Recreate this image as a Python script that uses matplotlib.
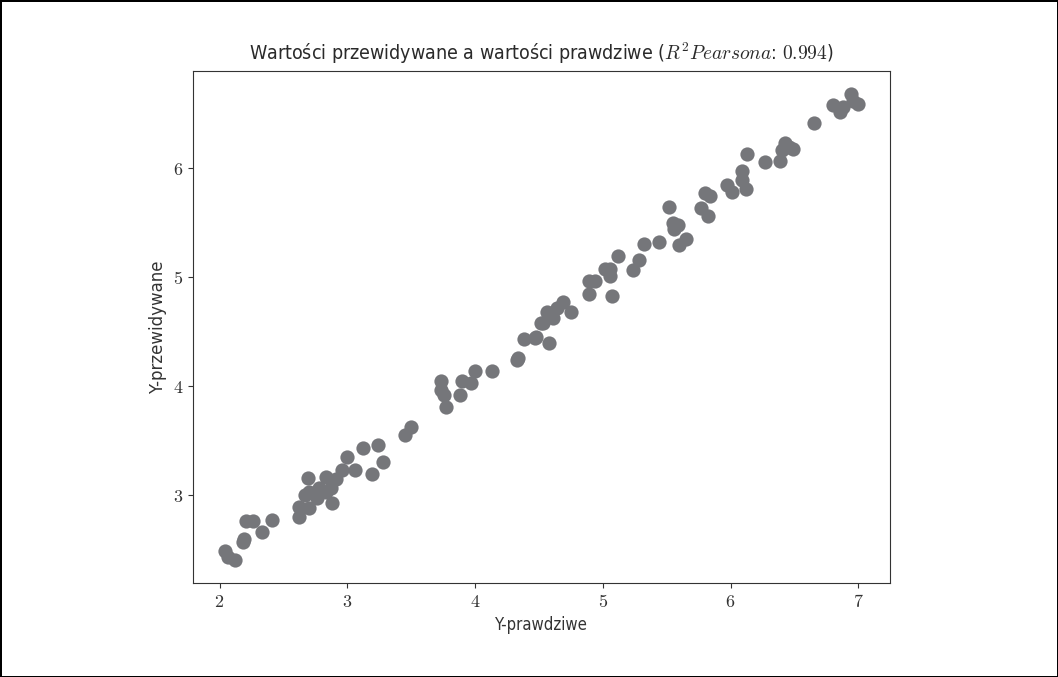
import matplotlib
matplotlib.use('Agg')
import matplotlib.pyplot as plt
from matplotlib.ticker import FuncFormatter

plt.rcParams['mathtext.fontset'] = 'cm'
plt.rcParams['font.family'] = ['DejaVu Sans']

y_true = [2.04, 2.07, 2.12, 2.18, 2.19, 2.21, 2.26, 2.33, 2.41, 2.62,
          2.62, 2.69, 2.70, 2.67, 2.70, 2.76, 2.78, 2.83, 2.83, 2.87,
          2.88, 2.91, 2.96, 3.00, 3.06, 3.12, 3.19, 3.24, 3.28, 3.45,
          3.50, 3.73, 3.73, 3.76, 3.77, 3.88, 3.90, 3.97, 4.00, 4.13,
          4.33, 4.34, 4.38, 4.47, 4.53, 4.58, 4.56, 4.61, 4.64, 4.69,
          4.75, 4.89, 4.89, 4.94, 5.02, 5.06, 5.06, 5.07, 5.12, 5.24,
          5.28, 5.32, 5.44, 5.52, 5.55, 5.56, 5.59, 5.60, 5.65, 5.77,
          5.80, 5.82, 5.84, 5.97, 6.01, 6.09, 6.09, 6.12, 6.13, 6.27,
          6.39, 6.40, 6.43, 6.46, 6.49, 6.65, 6.80, 6.86, 6.88, 6.94,
          6.96, 7.00, 4.52, 4.48]
y_pred = [2.49, 2.43, 2.41, 2.57, 2.60, 2.76, 2.76, 2.66, 2.77, 2.80,
          2.89, 3.16, 2.88, 3.00, 3.03, 2.97, 3.07, 3.17, 3.03, 3.07,
          2.93, 3.15, 3.23, 3.35, 3.23, 3.43, 3.19, 3.46, 3.30, 3.55,
          3.62, 4.05, 3.96, 3.92, 3.81, 3.92, 4.05, 4.03, 4.14, 4.14,
          4.24, 4.26, 4.43, 4.44, 4.58, 4.39, 4.68, 4.62, 4.71, 4.77,
          4.68, 4.84, 4.96, 4.96, 5.07, 5.07, 5.01, 4.82, 5.19, 5.06,
          5.15, 5.30, 5.32, 5.64, 5.49, 5.44, 5.47, 5.29, 5.35, 5.63,
          5.77, 5.56, 5.74, 5.84, 5.78, 5.97, 5.89, 5.80, 6.12, 6.05,
          6.06, 6.16, 6.22, 6.19, 6.17, 6.41, 6.57, 6.51, 6.55, 6.67,
          6.61, 6.58, 4.58, 4.45]

fig = plt.figure(figsize=(10.58, 6.77), dpi=100, edgecolor='black', linewidth=2)
ax = fig.add_axes([0.1824, 0.139, 0.6588, 0.756])

ax.scatter(y_true, y_pred, s=105, c='#75767a', linewidths=0)

# liczby na osiach w stylu LaTeX
math_fmt = FuncFormatter(lambda v, p: r'$%g$' % v)
ax.xaxis.set_major_formatter(math_fmt)
ax.yaxis.set_major_formatter(math_fmt)
ax.tick_params(axis='both', labelsize=13, colors='#333333')
for s in ax.spines.values():
    s.set_color('#333333')

ax.set_title('Wartości przewidywane a wartości prawdziwe ($R^2 Pearsona$: $0.994$)',
             fontsize=14, fontstretch='condensed', color='#2a2a2a', pad=8)
ax.set_xlabel('Y-prawdziwe', fontsize=12, fontstretch='condensed', color='#333333')
ax.set_ylabel('Y-przewidywane', fontsize=12, color='#333333')

fig.savefig('out.png', dpi=100, edgecolor=fig.get_edgecolor())
